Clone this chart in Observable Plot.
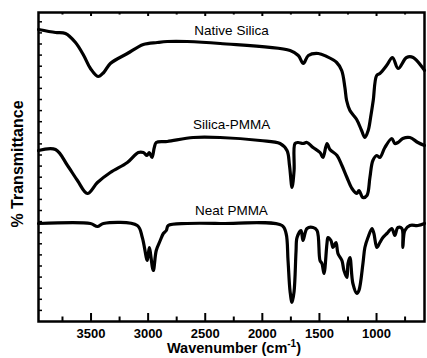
<!DOCTYPE html>
<html><head><meta charset="utf-8">
<script src="https://cdn.jsdelivr.net/npm/d3@7"></script>
<script src="https://cdn.jsdelivr.net/npm/@observablehq/plot@0.6"></script>
<style>
body{margin:0;background:#fff}
#chart svg{display:block}
#chart g[aria-label="x-axis tick label"] text{font-weight:bold}
</style>
</head><body><div id="chart"></div>
<script>
// Wavenumbers (cm-1) and transmittance (arbitrary units, offset curves)
const nativeWn = [3960, 3811, 3724, 3636, 3564, 3505, 3438, 3389, 3331, 3182, 3042, 2920, 2832, 2658, 2369, 1757, 1685, 1641, 1597, 1510, 1437, 1349, 1305, 1277, 1262, 1233, 1174, 1131, 1102, 1073, 1052, 1029, 999, 971, 912, 860, 811, 737, 679, 592, 580];
const nativeT  = [292, 289, 288, 279, 266, 253, 245, 249, 258, 268, 277, 279, 280, 280, 278, 271, 266, 258, 266, 268, 265, 259, 251, 234, 221, 211, 202, 191, 184, 191, 204, 221, 246, 248, 256, 264, 253, 264, 264, 253, 251];

const silicaWn = [3960, 3811, 3706, 3619, 3532, 3444, 3331, 3182, 3086, 3042, 3010, 2990, 2966, 2946, 2929, 2832, 2605, 2369, 2019, 1845, 1784, 1762, 1740, 1722, 1714, 1687, 1644, 1609, 1556, 1495, 1469, 1434, 1408, 1346, 1303, 1259, 1215, 1172, 1154, 1119, 1084, 1058, 1032, 997, 971, 927, 866, 840, 813, 770, 708, 638, 580];
const silicaT  = [171, 172, 156, 141, 128, 139, 149, 159, 169, 169, 166, 169, 164, 174, 179, 180, 184, 184, 181, 178, 171, 156, 134, 151, 178, 179, 178, 179, 174, 169, 164, 178, 172, 166, 156, 144, 133, 128, 131, 124, 126, 144, 161, 166, 164, 174, 183, 178, 179, 183, 184, 179, 176];

const neatWn = [3960, 3505, 3444, 3392, 3095, 3051, 3007, 2990, 2955, 2929, 2894, 2867, 2841, 2824, 2658, 2369, 1827, 1792, 1775, 1757, 1740, 1722, 1705, 1696, 1661, 1644, 1609, 1556, 1521, 1495, 1478, 1460, 1434, 1425, 1399, 1381, 1355, 1338, 1303, 1285, 1259, 1250, 1233, 1207, 1172, 1154, 1119, 1102, 1075, 1040, 1023, 997, 971, 944, 909, 866, 840, 813, 778, 770, 752, 708, 638, 580];
const neatT  = [98, 98, 95, 98, 96, 84, 61, 74, 51, 71, 81, 88, 91, 96, 98, 98, 96, 88, 61, 30, 19, 30, 70, 84, 91, 81, 93, 94, 91, 61, 58, 48, 78, 84, 81, 74, 79, 68, 61, 51, 44, 58, 64, 38, 28, 31, 58, 74, 84, 93, 88, 74, 79, 84, 88, 93, 86, 94, 93, 74, 91, 96, 96, 98];

const seriesNames = ["Native Silica", "Silica-PMMA", "Neat PMMA"];
const xMajorTicks = [3500, 3000, 2500, 2000, 1500, 1000];
const xMinorTicks = [3750, 3250, 2750, 2250, 1750, 1250, 750];
const labelWn = 2270;

const seriesData = [[nativeWn, nativeT], [silicaWn, silicaT], [neatWn, neatT]];
const rows = seriesData.flatMap(([w, t], i) => w.map((wn, j) => ({series: seriesNames[i], wn, t: t[j]})));
const labels = seriesData.map(([w, t], i) => {
  let k = 0; w.forEach((v, j) => { if (Math.abs(v - labelWn) < Math.abs(w[k] - labelWn)) k = j; });
  return {name: seriesNames[i], wn: labelWn, t: t[k]};
});
const yTicks = d3.range(11.1, 305, 11.1);

const font = "'Liberation Sans', Arial, sans-serif";
const plot = Plot.plot({
  width: 427, height: 358,
  marginLeft: 38, marginRight: 3, marginTop: 12, marginBottom: 37,
  x: {domain: [3960, 580], axis: null, label: null},
  y: {domain: [0, 309], axis: null, label: null},
  style: {fontFamily: font, background: "white", color: "black"},
  marks: [
    Plot.line(rows, {x: "wn", y: "t", z: "series", stroke: "black", strokeWidth: 3.2, strokeLinejoin: "round", strokeLinecap: "round", curve: "catmull-rom"}),
    Plot.ruleX(xMajorTicks, {x: d => d, y1: 0, y2: 8, stroke: "black", strokeWidth: 2}),
    Plot.ruleX(xMinorTicks, {x: d => d, y1: 0, y2: 4.5, stroke: "black", strokeWidth: 2}),
    Plot.ruleX(xMajorTicks, {x: d => d, y1: 309, y2: 305, stroke: "black", strokeWidth: 2}),
    Plot.ruleX(xMinorTicks, {x: d => d, y1: 309, y2: 306.5, stroke: "black", strokeWidth: 2}),
    Plot.tickY(yTicks, {y: d => d, stroke: "black", strokeWidth: 1.5, insetRight: 382}),
    Plot.axisX(xMajorTicks, {tickSize: 0, tickPadding: 7, fontSize: 13, fontWeight: "bold", tickFormat: d => String(d), label: null}),
    Plot.text(labels, {x: "wn", y: "t", text: "name", dy: -13, fontSize: 13.5, fill: "black"}),
    Plot.frame({stroke: "black", strokeWidth: 2.5})
  ]
});

const svg = d3.select(plot);
const xt = svg.append("text").attr("x", 234).attr("y", 353).attr("text-anchor", "middle")
  .attr("font-family", font).attr("font-weight", "bold").attr("font-size", 14.5).attr("fill", "black");
xt.append("tspan").text("Wavenumber (cm");
xt.append("tspan").attr("dy", -6).attr("font-size", 10).text("-1");
xt.append("tspan").attr("dy", 6).text(")");
svg.append("text").attr("transform", "translate(23,164) rotate(-90)").attr("text-anchor", "middle")
  .attr("font-family", font).attr("font-weight", "bold").attr("font-size", 16).attr("fill", "black")
  .text("% Transmittance");

document.getElementById("chart").appendChild(plot);
</script>
</body></html>
